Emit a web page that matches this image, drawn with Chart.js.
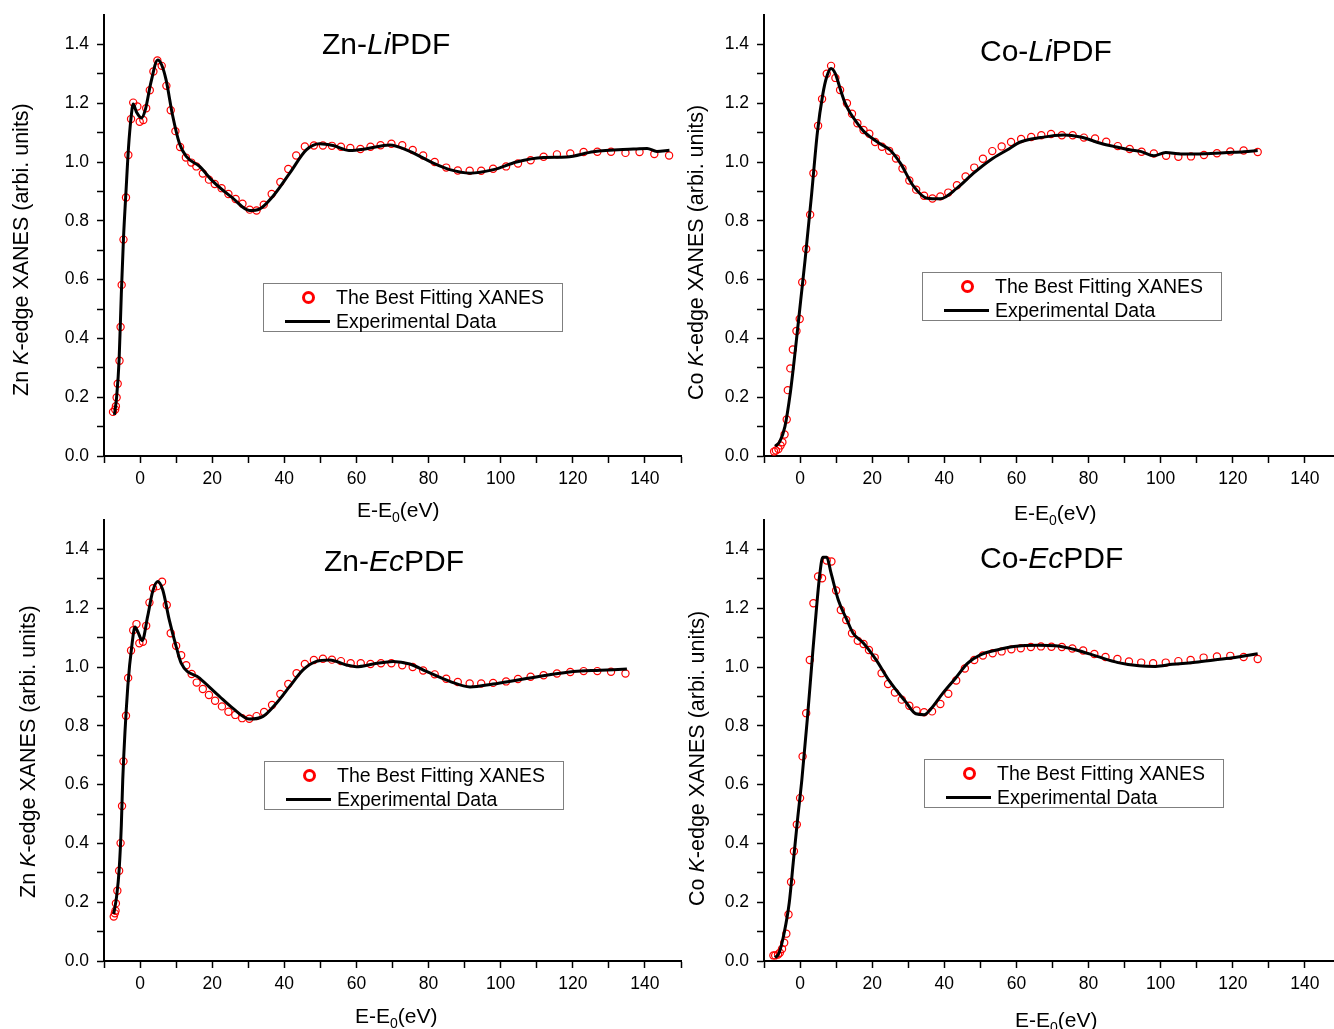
<!DOCTYPE html>
<html>
<head>
<meta charset="utf-8">
<title>Zn / Co K-edge XANES fits</title>
<script src="https://cdn.jsdelivr.net/npm/chart.js@4.4.1/dist/chart.umd.min.js"></script>
<style>
  html, body { margin: 0; padding: 0; background: #fff; }
  body {
    width: 1334px; height: 1029px; position: relative; overflow: hidden;
    font-family: "Liberation Sans", Arial, sans-serif; color: #000;
  }
  canvas { position: absolute; }
  .panel-title { position: absolute; font-size: 30px; line-height: 30px; white-space: nowrap; }
  .x-title { position: absolute; font-size: 21px; line-height: 21px; white-space: nowrap; }
  .x-title sub { font-size: 14px; line-height: 0; vertical-align: -5px; }
  .y-title {
    position: absolute; font-size: 21.5px; line-height: 22px; white-space: nowrap;
    transform-origin: 0 0; transform: rotate(-90deg);
  }
  .legend {
    position: absolute; box-sizing: border-box; width: 300px; height: 49px;
    border: 1px solid #7f7f7f; padding-top: 1px; background: #fff;
  }
  .legend .row {
    position: relative; height: 24px; line-height: 24px; font-size: 19.5px;
    padding-left: 72px; white-space: nowrap;
  }
  .legend .dot {
    position: absolute; left: 38px; top: 5.5px; width: 7px; height: 7px;
    border: 3px solid #ff0000; border-radius: 50%;
  }
  .legend .dash { position: absolute; left: 21px; top: 10.5px; width: 45px; height: 3px; background: #000; }
</style>
</head>
<body>

<canvas id="znLi" width="690" height="505" style="left:0px;top:0px;"></canvas>
<canvas id="coLi" width="690" height="505" style="left:660px;top:0px;"></canvas>
<canvas id="znEc" width="690" height="524" style="left:0px;top:505px;"></canvas>
<canvas id="coEc" width="690" height="524" style="left:660px;top:505px;"></canvas>

<!-- panel titles -->
<div class="panel-title" style="left:322px;top:29px;">Zn-<i>Li</i>PDF</div>
<div class="panel-title" style="left:980px;top:36px;">Co-<i>Li</i>PDF</div>
<div class="panel-title" style="left:324px;top:546px;">Zn-<i>Ec</i>PDF</div>
<div class="panel-title" style="left:980px;top:543px;">Co-<i>Ec</i>PDF</div>

<!-- axis titles -->
<div class="y-title" style="left:10px;top:396px;">Zn <i>K</i>-edge XANES (arbi. units)</div>
<div class="y-title" style="left:685px;top:400px;">Co <i>K</i>-edge XANES (arbi. units)</div>
<div class="y-title" style="left:17px;top:898px;">Zn <i>K</i>-edge XANES (arbi. units)</div>
<div class="y-title" style="left:686px;top:906px;">Co <i>K</i>-edge XANES (arbi. units)</div>

<div class="x-title" style="left:357px;top:499px;">E-E<sub>0</sub>(eV)</div>
<div class="x-title" style="left:1014px;top:502px;">E-E<sub>0</sub>(eV)</div>
<div class="x-title" style="left:355px;top:1005px;">E-E<sub>0</sub>(eV)</div>
<div class="x-title" style="left:1015px;top:1009px;">E-E<sub>0</sub>(eV)</div>

<!-- legends -->
<div class="legend" style="left:263px;top:283px;">
  <div class="row"><span class="dot"></span>The Best Fitting XANES</div>
  <div class="row"><span class="dash"></span>Experimental Data</div>
</div>
<div class="legend" style="left:922px;top:272px;">
  <div class="row"><span class="dot"></span>The Best Fitting XANES</div>
  <div class="row"><span class="dash"></span>Experimental Data</div>
</div>
<div class="legend" style="left:264px;top:761px;">
  <div class="row"><span class="dot"></span>The Best Fitting XANES</div>
  <div class="row"><span class="dash"></span>Experimental Data</div>
</div>
<div class="legend" style="left:924px;top:759px;">
  <div class="row"><span class="dot"></span>The Best Fitting XANES</div>
  <div class="row"><span class="dash"></span>Experimental Data</div>
</div>

<script>
// axis tick labels
const xTickValues = [0, 20, 40, 60, 80, 100, 120, 140];
const yTickValues = [0.0, 0.2, 0.4, 0.6, 0.8, 1.0, 1.2, 1.4];

// Zn-LiPDF : best fitting XANES (circles)
const znLiFitE = [-7.5, -6.9, -6.7, -6.5, -6.2, -5.7, -5.4, -5.1, -4.6, -3.9,
  -3.25, -2.5, -1.9, -0.75, -0.1, 0.9, 1.7, 2.7, 3.7, 4.8,
  6.0, 7.3, 8.5, 9.8, 11.1, 12.7, 14.2, 15.6, 17.4, 19.1,
  20.7, 22.6, 24.5, 26.5, 28.4, 30.4, 32.3, 34.3, 36.5, 38.9,
  41.1, 43.3, 45.7, 48.2, 50.7, 53.2, 55.7, 58.3, 61.1, 63.9,
  66.7, 69.7, 72.7, 75.6, 78.5, 81.7, 84.9, 88.1, 91.4, 94.6,
  97.9, 101.5, 104.8, 108.3, 111.9, 115.6, 119.3, 123.0, 126.8, 130.6,
  134.6, 138.5, 142.6, 146.7];
const znLiFitMu = [0.150, 0.158, 0.169, 0.199, 0.246, 0.324, 0.439, 0.582, 0.736, 0.879,
  1.024, 1.146, 1.202, 1.189, 1.137, 1.143, 1.183, 1.244, 1.308, 1.345,
  1.327, 1.259, 1.176, 1.105, 1.051, 1.015, 0.998, 0.985, 0.961, 0.940,
  0.925, 0.911, 0.891, 0.874, 0.858, 0.838, 0.835, 0.855, 0.891, 0.932,
  0.976, 1.022, 1.053, 1.056, 1.056, 1.055, 1.052, 1.048, 1.044, 1.052,
  1.057, 1.062, 1.057, 1.041, 1.022, 1.000, 0.981, 0.971, 0.970, 0.970,
  0.977, 0.985, 0.995, 1.006, 1.018, 1.026, 1.029, 1.034, 1.035, 1.035,
  1.031, 1.034, 1.027, 1.022];
// Zn-LiPDF : experimental spectrum (line)
const znLiExpE = [-7.1, -6.5, -5.8, -5.2, -4.6, -3.9, -3.2, -2.5, -1.9, -1.0,
  0.4, 1.5, 3.0, 4.9, 6.0, 7.2, 9.0, 10.9, 12.8, 16.5,
  20.2, 25.7, 30.4, 33.1, 36.8, 41.5, 46.1, 49.8, 53.5, 58.1,
  62.8, 69.2, 74.8, 81.3, 85.9, 91.5, 98.0, 104.4, 111.8, 118.3,
  125.7, 136.8, 140.6, 143.3, 146.8];
const znLiExpMu = [0.14, 0.20, 0.33, 0.55, 0.74, 0.90, 1.05, 1.15, 1.197, 1.17,
  1.15, 1.18, 1.27, 1.347, 1.33, 1.28, 1.16, 1.064, 1.019, 0.985,
  0.934, 0.877, 0.835, 0.840, 0.883, 0.962, 1.041, 1.062, 1.056, 1.039,
  1.045, 1.058, 1.036, 0.996, 0.974, 0.962, 0.974, 1.000, 1.015, 1.017,
  1.035, 1.044, 1.046, 1.036, 1.040];

// Co-LiPDF : best fitting XANES
const coLiFitE = [-7.2, -6.7, -6.0, -5.4, -4.9, -4.3, -3.7, -3.4, -2.7, -2.0,
  -1.0, -0.1, 0.6, 1.7, 2.8, 3.7, 5.0, 6.1, 7.4, 8.6,
  9.8, 11.1, 13.0, 14.4, 15.9, 17.6, 19.2, 20.8, 22.7, 24.7,
  26.6, 28.4, 30.3, 32.2, 34.4, 36.7, 38.9, 41.1, 43.5, 45.9,
  48.3, 50.7, 53.3, 55.9, 58.5, 61.3, 64.1, 66.9, 69.6, 72.6,
  75.6, 78.7, 81.8, 84.9, 88.1, 91.4, 94.7, 98.1, 101.5, 104.9,
  108.4, 112.0, 115.6, 119.3, 123.0, 126.9];
const coLiFitMu = [0.015, 0.019, 0.024, 0.036, 0.047, 0.073, 0.124, 0.224, 0.298, 0.362,
  0.425, 0.466, 0.591, 0.704, 0.821, 0.962, 1.123, 1.214, 1.300, 1.327,
  1.286, 1.245, 1.200, 1.164, 1.132, 1.109, 1.096, 1.068, 1.052, 1.038,
  1.012, 0.978, 0.937, 0.906, 0.885, 0.876, 0.883, 0.896, 0.921, 0.951,
  0.981, 1.011, 1.037, 1.053, 1.068, 1.078, 1.085, 1.091, 1.095, 1.091,
  1.091, 1.083, 1.080, 1.069, 1.054, 1.044, 1.035, 1.029, 1.021, 1.018,
  1.019, 1.024, 1.030, 1.036, 1.039, 1.034];
// Co-LiPDF : experimental spectrum
const coLiExpE = [-6.9, -5.6, -4.2, -2.7, -1.2, 0.2, 1.4, 3.2, 4.8, 6.3,
  7.4, 8.6, 9.8, 11.1, 12.5, 14.0, 16.0, 17.6, 19.5, 22.2,
  25.0, 27.8, 31.5, 35.2, 38.9, 43.5, 48.1, 52.8, 57.4, 61.1,
  66.7, 73.1, 77.8, 83.3, 87.0, 91.7, 94.4, 98.1, 101.4, 105.6,
  112.0, 118.5, 123.1, 126.9];
const coLiExpMu = [0.033, 0.05, 0.10, 0.215, 0.373, 0.532, 0.668, 0.89, 1.10, 1.23,
  1.29, 1.318, 1.30, 1.25, 1.20, 1.165, 1.13, 1.105, 1.085, 1.062,
  1.040, 0.996, 0.917, 0.877, 0.875, 0.911, 0.962, 1.007, 1.041, 1.068,
  1.083, 1.092, 1.085, 1.064, 1.053, 1.041, 1.036, 1.021, 1.032, 1.027,
  1.028, 1.032, 1.035, 1.039];

// Zn-EcPDF : best fitting XANES
const znEcFitE = [-7.3, -7.0, -6.8, -6.7, -6.3, -5.8, -5.4, -5.0, -4.6, -3.9,
  -3.3, -2.5, -1.9, -1.0, -0.2, 0.8, 1.7, 2.6, 3.6, 4.8,
  6.1, 7.4, 8.5, 10.0, 11.4, 12.8, 14.3, 15.7, 17.4, 19.1,
  20.8, 22.7, 24.5, 26.4, 28.3, 30.3, 32.3, 34.4, 36.6, 38.9,
  41.1, 43.4, 45.7, 48.2, 50.7, 53.2, 55.7, 58.4, 61.2, 63.9,
  66.8, 69.7, 72.7, 75.6, 78.5, 81.7, 84.9, 88.1, 91.4, 94.6,
  97.9, 101.5, 104.8, 108.3, 111.9, 115.6, 119.3, 123.0, 126.8, 130.6,
  134.6];
const znEcFitMu = [0.151, 0.162, 0.171, 0.196, 0.239, 0.307, 0.401, 0.527, 0.679, 0.834,
  0.963, 1.056, 1.125, 1.146, 1.081, 1.086, 1.140, 1.219, 1.268, 1.275,
  1.290, 1.211, 1.115, 1.072, 1.040, 1.006, 0.976, 0.947, 0.925, 0.905,
  0.885, 0.866, 0.848, 0.837, 0.826, 0.824, 0.833, 0.847, 0.871, 0.908,
  0.942, 0.979, 1.010, 1.024, 1.028, 1.025, 1.020, 1.013, 1.013, 1.010,
  1.013, 1.013, 1.006, 1.000, 0.988, 0.975, 0.960, 0.949, 0.944, 0.944,
  0.946, 0.951, 0.959, 0.967, 0.972, 0.978, 0.983, 0.986, 0.986, 0.984,
  0.978];
// Zn-EcPDF : experimental spectrum
const znEcExpE = [-7.3, -6.5, -5.8, -5.2, -4.8, -3.4, -2.2, -1.4, -0.6, 0.6,
  2.1, 3.5, 4.9, 6.3, 8.1, 10.0, 11.4, 16.5, 22.0, 25.7,
  30.4, 34.1, 37.8, 41.5, 45.2, 48.9, 52.6, 57.2, 60.0, 64.6,
  70.2, 74.8, 79.4, 85.9, 91.5, 97.9, 104.4, 111.8, 120.2, 127.6,
  135.0];
const znEcExpMu = [0.16, 0.22, 0.31, 0.46, 0.617, 0.934, 1.081, 1.136, 1.119, 1.090,
  1.172, 1.257, 1.291, 1.262, 1.160, 1.070, 1.013, 0.962, 0.900, 0.860,
  0.823, 0.832, 0.877, 0.934, 0.990, 1.019, 1.024, 1.007, 1.001, 1.010,
  1.019, 1.010, 0.985, 0.951, 0.932, 0.942, 0.955, 0.970, 0.985, 0.989,
  0.993];

// Co-EcPDF : best fitting XANES
const coEcFitE = [-7.4, -6.9, -6.1, -5.6, -5.0, -4.4, -3.8, -3.2, -2.5, -1.7,
  -0.9, 0.0, 0.7, 1.7, 2.7, 3.7, 5.0, 6.1, 7.4, 8.7,
  10.0, 11.3, 12.8, 14.4, 16.0, 17.6, 19.1, 20.7, 22.6, 24.4,
  26.3, 28.2, 30.3, 32.3, 34.4, 36.6, 38.9, 41.1, 43.3, 45.7,
  48.3, 50.7, 53.4, 55.9, 58.6, 61.2, 64.0, 66.8, 69.7, 72.6,
  75.5, 78.5, 81.6, 84.7, 88.0, 91.2, 94.6, 97.9, 101.4, 104.9,
  108.3, 111.9, 115.6, 119.3, 123.0, 126.9];
const coEcFitMu = [0.019, 0.019, 0.022, 0.028, 0.041, 0.062, 0.093, 0.158, 0.269, 0.373,
  0.464, 0.554, 0.696, 0.843, 1.024, 1.217, 1.308, 1.302, 1.362, 1.359,
  1.260, 1.194, 1.160, 1.115, 1.089, 1.078, 1.058, 1.032, 0.979, 0.942,
  0.913, 0.889, 0.868, 0.852, 0.846, 0.849, 0.874, 0.909, 0.954, 0.995,
  1.024, 1.039, 1.047, 1.053, 1.060, 1.064, 1.068, 1.070, 1.069, 1.068,
  1.063, 1.056, 1.044, 1.034, 1.027, 1.019, 1.015, 1.013, 1.015, 1.020,
  1.024, 1.032, 1.036, 1.038, 1.034, 1.027];
// Co-EcPDF : experimental spectrum
const coEcExpE = [-6.9, -5.8, -4.4, -3.0, -1.9, -0.7, 0.5, 2.0, 3.5, 4.6,
  5.4, 6.3, 7.4, 8.6, 10.6, 13.0, 14.7, 17.6, 21.1, 24.5,
  29.2, 32.1, 34.4, 36.1, 39.6, 43.1, 46.5, 50.0, 54.6, 59.3,
  66.2, 70.8, 76.6, 82.4, 88.2, 94.0, 98.6, 103.2, 109.0, 114.8,
  120.6, 126.9];
const coEcExpMu = [0.011, 0.028, 0.096, 0.198, 0.334, 0.481, 0.617, 0.821, 1.047, 1.206,
  1.308, 1.373, 1.373, 1.319, 1.228, 1.160, 1.115, 1.081, 1.024, 0.957,
  0.883, 0.841, 0.838, 0.855, 0.911, 0.962, 1.013, 1.041, 1.058, 1.070,
  1.074, 1.072, 1.058, 1.036, 1.015, 1.004, 1.002, 1.009, 1.015, 1.024,
  1.032, 1.045];

const xTickFont = { family: "'Liberation Sans', Arial, sans-serif", size: 17.5 };
// tight line height so the top label does not push the plot down
const yTickFont = { family: "'Liberation Sans', Arial, sans-serif", size: 17.5, lineHeight: 0.8 };

function toPoints(xs, ys) {
  return xs.map((x, i) => ({ x: x, y: ys[i] }));
}

// one panel = experimental line on top of the fitted circles
function buildPanel(canvasId, fitE, fitMu, expE, expMu) {
  const canvas = document.getElementById(canvasId);
  const ctx = canvas.getContext('2d');
  const padBottom = canvas.height - 456 - 40;

  return new Chart(ctx, {
    type: 'line',
    data: {
      datasets: [
        {
          label: 'Experimental Data',
          data: toPoints(expE, expMu),
          borderColor: '#000000',
          borderWidth: 3,
          pointRadius: 0,
          fill: false,
          cubicInterpolationMode: 'monotone',
          order: 0
        },
        {
          label: 'The Best Fitting XANES',
          data: toPoints(fitE, fitMu),
          showLine: false,
          pointStyle: 'circle',
          pointRadius: 3.6,
          pointBorderWidth: 1.2,
          pointBorderColor: '#ff0000',
          pointBackgroundColor: 'rgba(0, 0, 0, 0)',
          order: 1
        }
      ]
    },
    options: {
      responsive: false,
      animation: false,
      devicePixelRatio: 1,
      layout: {
        padding: { top: 14, right: 9, bottom: padBottom, left: 0 }
      },
      plugins: {
        legend: { display: false },
        tooltip: { enabled: false }
      },
      scales: {
        x: {
          type: 'linear',
          min: -10,
          max: 150,
          afterFit: function(scale) { scale.height = 40; },
          border: { display: true, color: '#000000', width: 2 },
          grid: {
            display: true,
            drawOnChartArea: false,
            drawTicks: true,
            tickLength: 7,
            tickWidth: 1.5,
            tickColor: '#000000'
          },
          ticks: {
            stepSize: 10,
            autoSkip: false,
            maxRotation: 0,
            padding: 6,
            color: '#000000',
            font: xTickFont,
            callback: function(value) {
              return xTickValues.includes(value) ? String(value) : '';
            }
          }
        },
        y: {
          type: 'linear',
          min: 0,
          max: 1.5,
          afterFit: function(scale) { scale.width = 104; },
          border: { display: true, color: '#000000', width: 2 },
          grid: {
            display: true,
            drawOnChartArea: false,
            drawTicks: true,
            tickLength: 7,
            tickWidth: 1.5,
            tickColor: function(context) {
              // no tick at the very top of the axis
              return context.tick && context.tick.value > 1.45 ? 'rgba(0,0,0,0)' : '#000000';
            }
          },
          ticks: {
            stepSize: 0.1,
            autoSkip: false,
            padding: 8,
            color: '#000000',
            font: yTickFont,
            callback: function(value) {
              const hit = yTickValues.some(t => Math.abs(t - value) < 1e-6);
              return hit ? value.toFixed(1) : '';
            }
          }
        }
      }
    }
  });
}

buildPanel('znLi', znLiFitE, znLiFitMu, znLiExpE, znLiExpMu);
buildPanel('coLi', coLiFitE, coLiFitMu, coLiExpE, coLiExpMu);
buildPanel('znEc', znEcFitE, znEcFitMu, znEcExpE, znEcExpMu);
buildPanel('coEc', coEcFitE, coEcFitMu, coEcExpE, coEcExpMu);
</script>
</body>
</html>
